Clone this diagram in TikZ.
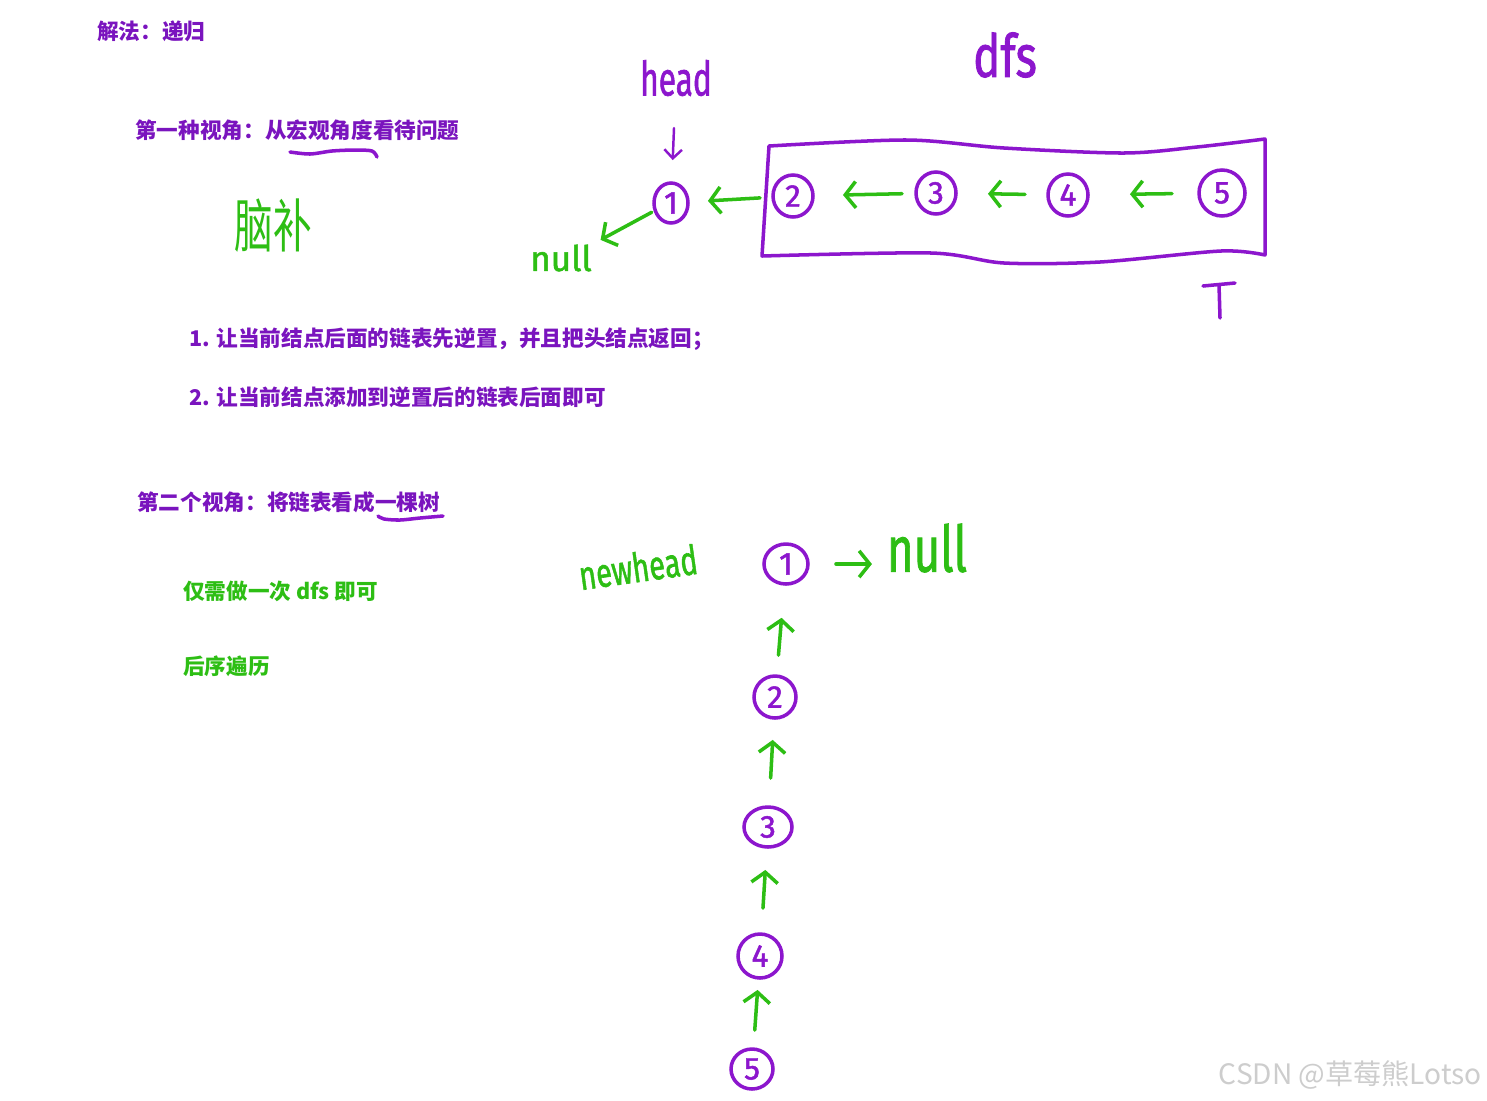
\documentclass[tikz,border=0pt]{standalone}
\usepackage{fontspec}
\usepackage{graphicx}
\usetikzlibrary{shapes.geometric,arrows.meta}
\newfontfamily\cjk{Noto Sans CJK SC}
\newfontfamily\hand{Fira Sans}[FakeBold=1.5]
\definecolor{inkpurple}{RGB}{140,22,205}
\definecolor{textpurple}{RGB}{122,20,190}
\definecolor{inkgreen}{RGB}{45,190,20}
\definecolor{markgrey}{RGB}{205,205,205}

\begin{document}
\begin{tikzpicture}[x=0.02cm, y=-0.02cm]
        % Define styles
        \tikzstyle{title} = [anchor=west, inner sep=0, text=textpurple, font=\cjk\bfseries\fontsize{12.3}{14}\selectfont]
        \tikzstyle{note} = [title, text=inkgreen]
        \tikzstyle{hand} = [inner sep=0, outer sep=0]
        \tikzstyle{ring} = [ellipse, draw=inkpurple, line width=2pt, inner sep=0, outer sep=0, text=inkpurple, font=\hand\fontsize{18}{18}\selectfont]
        \tikzstyle{arrow} = [draw=inkgreen, line width=2pt, line cap=round, -{Straight Barb[length=6pt,width=15pt]}]
        \tikzstyle{pen} = [draw=inkpurple, line width=2pt, line cap=round, line join=round]

        \useasboundingbox (0,0) rectangle (1487,1100);
        \fill [white] (0,0) rectangle (1487,1100);

        % Texts
        \node (sol) [title] at (97,31) {解法：递归};
        \node (view1) [title] at (135,130) {第一种视角：从宏观角度看待问题};
        \node (step1) [title] at (189,339) {1. 让当前结点后面的链表先逆置，并且把头结点返回；};
        \node (step2) [title] at (189,397) {2. 让当前结点添加到逆置后的链表后面即可};
        \node (view2) [title] at (137,502) {第二个视角：将链表看成一棵树};
        \node (once) [note] at (183,591) {仅需做一次 dfs 即可};
        \node (post) [note] at (183,666) {后序遍历};
        \node (mark) [anchor=east, inner sep=0, text=markgrey, font=\cjk\fontsize{16}{16}\selectfont] at (1482,1075) {CSDN @草莓熊Lotso};

        % Handwriting
        \node (guess) [hand, text=inkgreen, font=\cjk\fontsize{22}{22}\selectfont] at (273,226) {\scalebox{1}[1.5]{脑补}};
        \node (head) [hand, text=inkpurple, font=\hand\fontsize{18}{18}\selectfont] at (676,78) {\scalebox{1}[1.5]{head}};
        \node (dfs) [hand, text=inkpurple, font=\hand\fontsize{26}{26}\selectfont] at (1005,55) {\scalebox{1}[1.3]{dfs}};
        \node (null1) [hand, text=inkgreen, font=\hand\fontsize{20}{20}\selectfont] at (561,258) {null};
        \node (newhead) [hand, text=inkgreen, rotate=8, font=\hand\fontsize{16.5}{16.5}\selectfont] at (638,567) {\scalebox{1}[1.4]{newhead}};
        \node (null2) [hand, text=inkgreen, font=\hand\fontsize{26}{26}\selectfont] at (927,548) {\scalebox{1}[1.4]{null}};

        % Nodes, first view
        \node (n1) [ring, minimum width=0.68cm, minimum height=0.8cm] at (671,203) {1};
        \node (n2) [ring, minimum width=0.8cm, minimum height=0.84cm] at (793,196) {2};
        \node (n3) [ring, minimum width=0.8cm, minimum height=0.84cm] at (936,193) {3};
        \node (n4) [ring, minimum width=0.8cm, minimum height=0.84cm] at (1068,195) {4};
        \node (n5) [ring, minimum width=0.92cm, minimum height=0.92cm] at (1222,193) {5};

        % Nodes, second view
        \node (n1b) [ring, minimum width=0.88cm, minimum height=0.8cm] at (786,564) {1};
        \node (n2b) [ring, minimum width=0.84cm, minimum height=0.84cm] at (775,697) {2};
        \node (n3b) [ring, minimum width=0.96cm, minimum height=0.8cm] at (768,827) {3};
        \node (n4b) [ring, minimum width=0.88cm, minimum height=0.88cm] at (760,956) {4};
        \node (n5b) [ring, minimum width=0.84cm, minimum height=0.8cm] at (752,1069) {5};

        % Box round the rest of the list
        \draw [pen] plot [smooth] coordinates {(769,146) (907,140) (1004,148) (1124,153) (1197,147) (1265,139)}
            -- plot [smooth] coordinates {(1265,255) (1221,251) (1100,262) (1004,263) (931,253) (762,256)} -- cycle;
        \draw [pen] (1203,286) -- (1235,283) (1219,285) -- (1220,318);

        % Underlines
        \draw [pen] plot [smooth] coordinates {(290,152) (310,154) (332,151) (355,150) (372,151) (377,157)};
        \draw [pen] plot [smooth] coordinates {(378,516) (384,519) (400,520) (420,518) (443,516)};

        % Arrows
        \draw [arrow, draw=inkpurple, line width=1.4pt, -{Straight Barb[length=5pt,width=10pt]}, shorten <=0.64cm, shorten >=0.46cm] (head) -- (n1);
        \draw [arrow, shorten <=0.08cm, shorten >=0.2cm] (n1.205) -- (null1.north east);
        \draw [arrow, shorten <=0.26cm, shorten >=0.4cm] (n2) -- (n1);
        \draw [arrow, shorten <=0.28cm, shorten >=0.6cm] (n3) -- (n2);
        \draw [arrow, shorten <=0.46cm, shorten >=0.64cm] (n4) -- (n3);
        \draw [arrow, shorten <=0.54cm, shorten >=0.84cm] (n5) -- (n4);

        \draw [arrow, shorten <=0.56cm, shorten >=0.3cm] (n1b.east) -- (null2.west |- n1b.east);
        \draw [arrow, shorten <=0.42cm, shorten >=0.68cm] (n2b) -- (n1b);
        \draw [arrow, shorten <=0.58cm, shorten >=0.44cm] (n3b) -- (n2b);
        \draw [arrow, shorten <=0.52cm, shorten >=0.46cm] (n4b) -- (n3b);
        \draw [arrow, shorten <=0.38cm, shorten >=0.24cm] (n5b) -- (n4b);
\end{tikzpicture}
\end{document}
